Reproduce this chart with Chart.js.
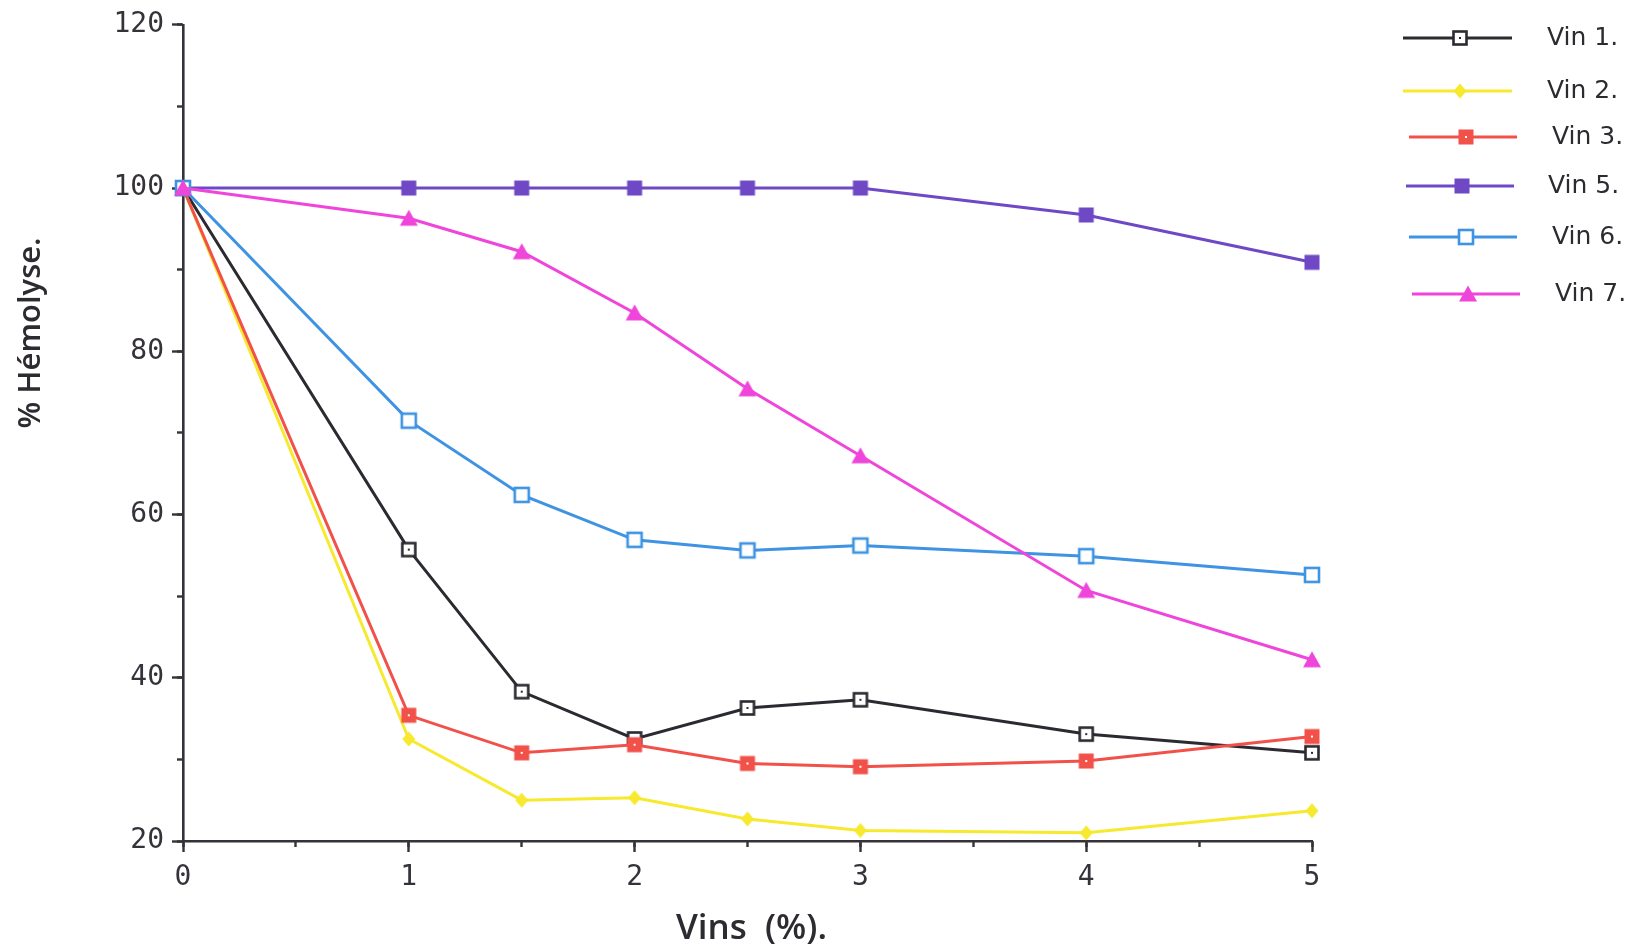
<!DOCTYPE html>
<html>
<head>
<meta charset="utf-8">
<script src="https://cdn.jsdelivr.net/npm/chart.js@4/dist/chart.umd.min.js"></script>
<style>
  html, body { margin: 0; padding: 0; background: #fff; }
  canvas { display: block; }
</style>
</head>
<body>
<canvas id="myChart" width="1629" height="947"></canvas>
<script>
// % hemolysis vs wine concentration
const doses = [0, 1, 1.5, 2, 2.5, 3, 4, 5];
const names = ['Vin 1.', 'Vin 2.', 'Vin 3.', 'Vin 5.', 'Vin 6.', 'Vin 7.'];
const vin1 = [100, 55.7, 38.3, 32.5, 36.3, 37.3, 33.1, 30.8];
const vin2 = [100, 32.5, 25.0, 25.3, 22.7, 21.3, 21.0, 23.7];
const vin3 = [100, 35.4, 30.8, 31.8, 29.5, 29.1, 29.8, 32.8];
const vin5 = [100, 100, 100, 100, 100, 100, 96.7, 90.9];
const vin6 = [100, 71.5, 62.4, 56.9, 55.6, 56.2, 54.9, 52.6];
const vin7 = [100, 96.3, 92.2, 84.7, 75.4, 67.2, 50.7, 42.2];
const yTicks = [20, 40, 60, 80, 100, 120];
const xTicks = [0, 1, 2, 3, 4, 5];

const axisColor = '#36323a';
const colors = ['#2b2a30', '#f6e92e', '#f2514a', '#6f48c6', '#3e93e2', '#ef45da'];

// small canvases used as point styles
const makeMarker = (kind, color) => {
  const c = document.createElement('canvas');
  c.width = 22;
  c.height = 22;
  const g = c.getContext('2d');
  const m = 11;
  if (kind === 'dotSquare') {
    g.fillStyle = '#fff';
    g.fillRect(m - 6.5, m - 6.5, 13, 13);
    g.strokeStyle = color;
    g.lineWidth = 2.6;
    g.strokeRect(m - 6.5, m - 6.5, 13, 13);
    g.fillStyle = color;
    g.fillRect(m - 1, m - 1, 2, 2);
  } else if (kind === 'diamond') {
    g.fillStyle = color;
    g.beginPath();
    g.moveTo(m, m - 7.5);
    g.lineTo(m + 6.5, m);
    g.lineTo(m, m + 7.5);
    g.lineTo(m - 6.5, m);
    g.closePath();
    g.fill();
  } else if (kind === 'filledDot') {
    g.fillStyle = color;
    g.fillRect(m - 7.5, m - 7.5, 15, 15);
    g.fillStyle = '#fff';
    g.fillRect(m - 1, m - 1, 2, 2);
  } else if (kind === 'filled') {
    g.fillStyle = color;
    g.fillRect(m - 7.5, m - 7.5, 15, 15);
  } else if (kind === 'open') {
    g.fillStyle = '#fff';
    g.fillRect(m - 7, m - 7, 14, 14);
    g.strokeStyle = color;
    g.lineWidth = 2.6;
    g.strokeRect(m - 7, m - 7, 14, 14);
  } else if (kind === 'triangle') {
    g.fillStyle = color;
    g.beginPath();
    g.moveTo(m, m - 8.5);
    g.lineTo(m + 9, m + 7.5);
    g.lineTo(m - 9, m + 7.5);
    g.closePath();
    g.fill();
  }
  return c;
};

const kinds = ['dotSquare', 'diamond', 'filledDot', 'filled', 'open', 'triangle'];
const series = [vin1, vin2, vin3, vin5, vin6, vin7];

const datasets = series.map((vals, i) => ({
  label: names[i],
  data: vals.map((v, k) => ({ x: doses[k], y: v })),
  borderColor: colors[i],
  backgroundColor: colors[i],
  borderWidth: 3,
  tension: 0,
  pointStyle: makeMarker(kinds[i], colors[i]),
  pointRadius: 7,
  clip: false,
  order: series.length - i,
}));

// hand-placed legend rows, as in the figure
const legendRows = [
  { x1: 1403, x2: 1512, mx: 1460, tx: 1547, y: 38 },
  { x1: 1403, x2: 1512, mx: 1460, tx: 1547, y: 91 },
  { x1: 1409, x2: 1517, mx: 1466, tx: 1552, y: 137 },
  { x1: 1406, x2: 1514, mx: 1462, tx: 1548, y: 186 },
  { x1: 1409, x2: 1517, mx: 1466, tx: 1552, y: 237 },
  { x1: 1412, x2: 1520, mx: 1468, tx: 1555, y: 294 },
];

const decorations = {
  id: 'decorations',
  afterDraw(chart) {
    const ctx = chart.ctx;
    ctx.save();
    chart.data.datasets.forEach((ds, i) => {
      const r = legendRows[i];
      ctx.strokeStyle = ds.borderColor;
      ctx.lineWidth = 3;
      ctx.beginPath();
      ctx.moveTo(r.x1, r.y);
      ctx.lineTo(r.x2, r.y);
      ctx.stroke();
      const p = ds.pointStyle;
      ctx.drawImage(p, r.mx - p.width / 2, r.y - p.height / 2);
      ctx.fillStyle = '#2d2a30';
      ctx.font = '25px "DejaVu Sans"';
      ctx.textBaseline = 'middle';
      ctx.textAlign = 'left';
      ctx.fillText(ds.label, r.tx, r.y);
    });

    // axis titles
    const area = chart.chartArea;
    ctx.fillStyle = '#2d2a30';
    ctx.font = '600 35px "Open Sans"';
    ctx.textAlign = 'center';
    ctx.textBaseline = 'middle';
    ctx.fillText('Vins  (%).', (area.left + area.right) / 2 + 4, 929);
    ctx.font = '600 31px "Open Sans"';
    ctx.translate(31, 333);
    ctx.rotate(-Math.PI / 2);
    ctx.fillText('% Hémolyse.', 0, 0);
    ctx.restore();
  }
};

const tickFont = { family: '"DejaVu Sans Mono"', size: 28 };

const config = {
  type: 'line',
  data: { datasets: datasets },
  options: {
    responsive: false,
    animation: false,
    devicePixelRatio: 1,
    layout: { padding: { left: 0, top: 20, right: 317, bottom: 0 } },
    plugins: {
      legend: { display: false },
      tooltip: { enabled: false },
    },
    scales: {
      x: {
        type: 'linear',
        position: 'bottom',
        weight: 1,
        min: 0,
        max: 5,
        afterBuildTicks: (s) => { s.ticks = xTicks.map(v => ({ value: v })); },
        afterFit: (s) => { s.height = 106; },
        ticks: { font: tickFont, color: '#36323a', padding: 9 },
        grid: { drawOnChartArea: false, tickLength: 11, tickWidth: 2.4, tickColor: axisColor },
        border: { color: axisColor, width: 2.6 },
      },
      xMinor: {
        type: 'linear',
        position: 'bottom',
        weight: 0,
        min: 0,
        max: 5,
        ticks: { stepSize: 0.5, display: false },
        afterFit: (s) => { s.height = 0; },
        grid: { drawOnChartArea: false, tickLength: 6, tickWidth: 2.4, tickColor: axisColor },
        border: { display: false },
      },
      y: {
        type: 'linear',
        position: 'left',
        weight: 1,
        min: 20,
        max: 120,
        afterBuildTicks: (s) => { s.ticks = yTicks.map(v => ({ value: v })); },
        afterFit: (s) => { s.width = 183; },
        ticks: { font: tickFont, color: '#36323a', padding: 8 },
        grid: { drawOnChartArea: false, tickLength: 11, tickWidth: 2.4, tickColor: axisColor },
        border: { color: axisColor, width: 2.6 },
      },
      yMinor: {
        type: 'linear',
        position: 'left',
        weight: 0,
        min: 20,
        max: 120,
        ticks: { stepSize: 10, display: false },
        afterFit: (s) => { s.width = 0; },
        grid: { drawOnChartArea: false, tickLength: 6, tickWidth: 2.4, tickColor: axisColor },
        border: { display: false },
      },
    },
  },
  plugins: [decorations],
};

new Chart(document.getElementById('myChart'), config);
</script>
</body>
</html>
